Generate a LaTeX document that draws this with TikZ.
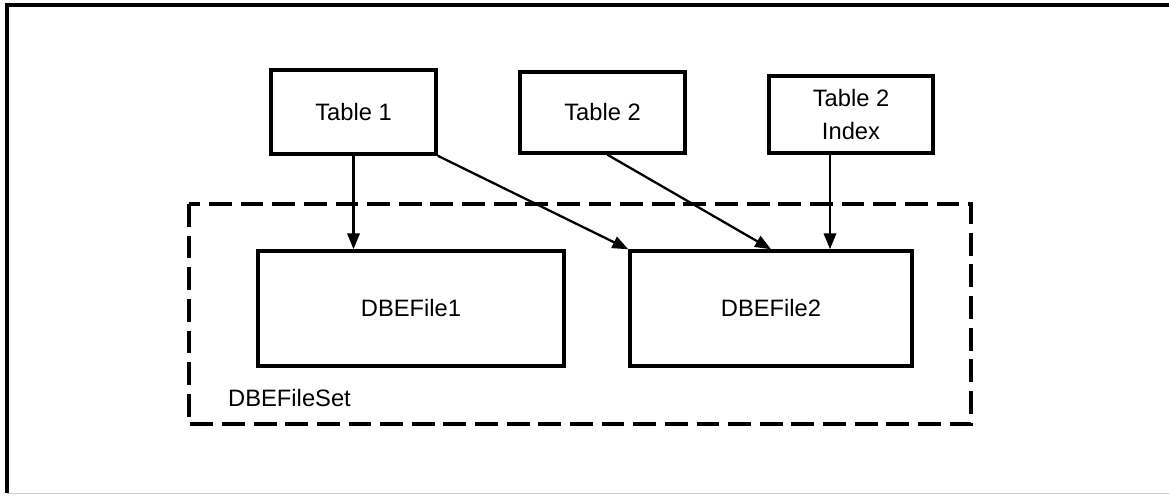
\documentclass[tikz,border=0pt]{standalone}
\usepackage{fontspec}
\setmainfont{Liberation Sans}
\usepackage{tikz}
\usetikzlibrary{arrows.meta, positioning}

\begin{document}
\begin{tikzpicture}[font=\fontsize{13.5}{19}\selectfont]
        % Setup the styles for the boxes and arrows
        \tikzset{table box/.style={draw,
                                   line width=2pt,
                                   minimum width=3.3cm,
                                   minimum height=1.62cm,
                                   align=center},
                 file box/.style={draw,
                                  line width=2pt,
                                  minimum height=2.3cm},
                 link/.style={line width=1.3pt,
                              -{Triangle[length=9pt,width=7pt]}}}

        \useasboundingbox (0, 0) rectangle (23.38, -9.9);

        % Outer frame
        \draw[line width=2pt] (0.14, -9.86) -- (0.14, -0.1) -- (23.38, -0.1);
        \draw[line width=0.5pt, gray!40] (0.14, -9.86) -- (23.38, -9.86);

        % File set
        \draw[line width=2pt, dash pattern=on 13pt off 5pt]
            (3.78, -4.08) rectangle (19.42, -8.48);
        \node[anchor=west] at (4.44, -7.96) (set) {DBEFileSet};

        % Draw the tables
        \node[table box, minimum height=1.68cm] at (7.07, -2.24) (t1) {Table 1};
        \node[table box] at (12.05, -2.25) (t2) {Table 2};
        \node[table box, minimum width=3.28cm, minimum height=1.54cm]
            at (17.02, -2.29) (ix) {Table 2\\Index};

        % Draw the files
        \node[file box, minimum width=6.12cm] at (8.22, -6.17) (f1) {DBEFile1};
        \node[file box, minimum width=5.64cm] at (15.42, -6.17) (f2) {DBEFile2};

        % Connect the tables with the files
        \draw[link] (t1.south) -- (t1.south |- f1.north);
        \draw[link] (t1.south east) -- (f2.north west);
        \draw[link] ([xshift=1mm]t2.south) -- (f2.north);
        \draw[link] ([xshift=-4.2mm]ix.south) -- ([xshift=-4.2mm]ix.south |- f2.north);
\end{tikzpicture}
\end{document}
